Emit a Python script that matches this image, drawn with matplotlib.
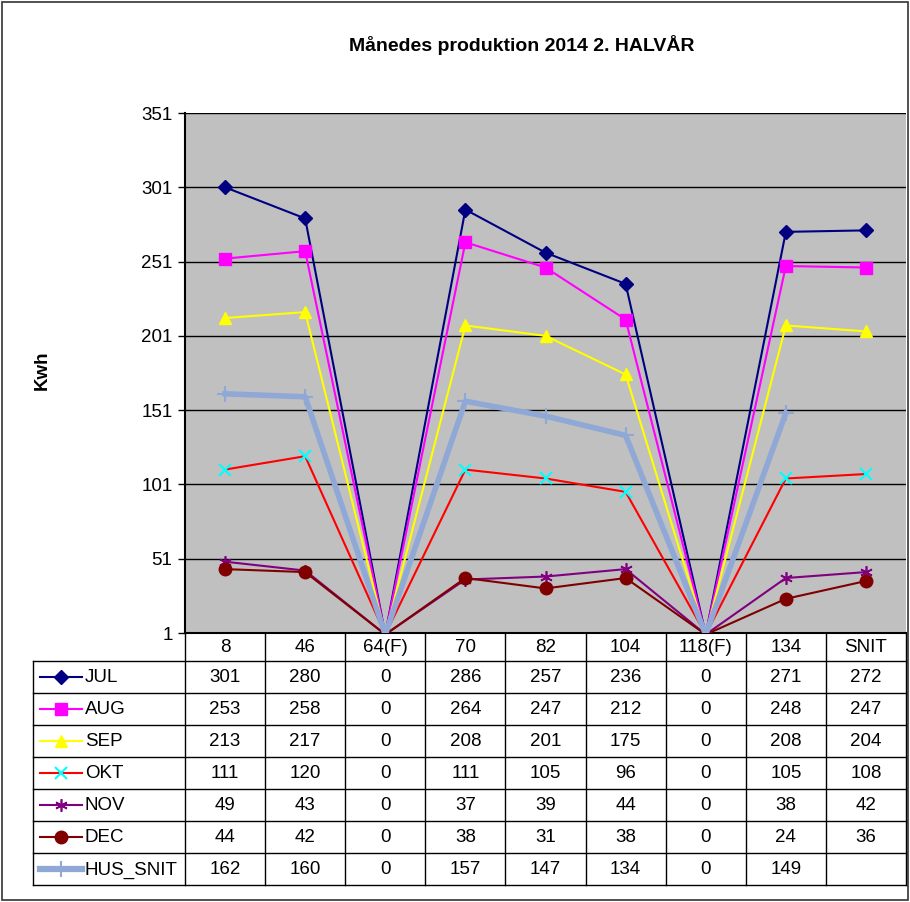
import matplotlib
matplotlib.use('Agg')
import matplotlib.pyplot as plt
import numpy as np
from matplotlib.lines import Line2D
from matplotlib.patches import Rectangle

plt.rcParams['font.family'] = ['Liberation Sans', 'DejaVu Sans']

# data
kategorier = ['8', '46', '64(F)', '70', '82', '104', '118(F)', '134', 'SNIT']
serier = ['JUL', 'AUG', 'SEP', 'OKT', 'NOV', 'DEC', 'HUS_SNIT']
jul = [301, 280, 0, 286, 257, 236, 0, 271, 272]
aug = [253, 258, 0, 264, 247, 212, 0, 248, 247]
sep = [213, 217, 0, 208, 201, 175, 0, 208, 204]
okt = [111, 120, 0, 111, 105, 96, 0, 105, 108]
nov = [49, 43, 0, 37, 39, 44, 0, 38, 42]
dec = [44, 42, 0, 38, 31, 38, 0, 24, 36]
hus_snit = [162, 160, 0, 157, 147, 134, 0, 149, None]
y_ticks = [1, 51, 101, 151, 201, 251, 301, 351]

vaerdier = [jul, aug, sep, okt, nov, dec, hus_snit]

stil = {
    'JUL': dict(color='#000080', marker='D', mfc='#000080', mec='#000080', ms=7, lw=1.5, mew=1),
    'AUG': dict(color='#FF00FF', marker='s', mfc='#FF00FF', mec='#FF00FF', ms=8, lw=1.5, mew=1),
    'SEP': dict(color='#FFFF00', marker='^', mfc='#FFFF00', mec='#FFFF00', ms=9, lw=1.5, mew=1),
    'OKT': dict(color='#FF0000', marker='x', mfc='#00FFFF', mec='#00FFFF', ms=8, lw=1.5, mew=1.5),
    'NOV': dict(color='#800080', marker=(6, 2, 0), mfc='#800080', mec='#800080', ms=9, lw=1.5, mew=1.2),
    'DEC': dict(color='#800000', marker='o', mfc='#800000', mec='#800000', ms=9, lw=1.5, mew=1),
    'HUS_SNIT': dict(color='#8FA8D6', marker='+', mfc='#8FA8D6', mec='#8FA8D6', ms=12, lw=4, mew=1.5),
}

W, H = 910, 902
L, R, T, B = 185, 906, 113, 633
rh = 32
tab_top = 661
leg_left = 33
fs = 13.5

fig = plt.figure(figsize=(W / 100, H / 100), dpi=100)
ax = fig.add_axes([L / W, 1 - B / H, (R - L) / W, (B - T) / H])
ax.set_facecolor('#C0C0C0')

x = np.arange(len(kategorier))
for navn, v in zip(serier, vaerdier):
    y = np.array([np.nan if a is None else a for a in v], dtype=float)
    synlig = [i for i, a in enumerate(y) if a > 0]
    ax.plot(x, y, markevery=synlig, zorder=3, **stil[navn])

ax.set_xlim(-0.5, len(kategorier) - 0.5)
ax.set_ylim(1, 351)
ax.set_yticks(y_ticks)
ax.set_xticks([])
ax.tick_params(axis='y', length=5, width=1, labelsize=fs, pad=4, direction='out')
ax.grid(axis='y', color='black', lw=1)
ax.set_axisbelow(True)
for s in ['top', 'right']:
    ax.spines[s].set_visible(False)
ax.spines['left'].set_linewidth(1.5)
ax.spines['bottom'].set_linewidth(1.5)

# overlay in pixel coords for title, table and frame
ov = fig.add_axes([0, 0, 1, 1])
ov.set_xlim(0, W)
ov.set_ylim(H, 0)
ov.axis('off')
ov.patch.set_visible(False)

ov.text(522, 45, 'Månedes produktion 2014 2. HALVÅR', ha='center', va='center',
        fontsize=14, fontweight='bold')
ov.text(42, 370, 'Kwh', ha='center', va='center', rotation=90,
        fontsize=13.5, fontweight='bold')

cw = (R - L) / len(kategorier)
tab_bund = tab_top + rh * len(serier)

# table grid
for k in range(len(kategorier) + 1):
    ov.plot([L + k * cw] * 2, [B, tab_bund], color='black', lw=1)
ov.plot([leg_left] * 2, [tab_top, tab_bund], color='black', lw=1)
for r in range(len(serier) + 1):
    yy = tab_top + r * rh
    ov.plot([leg_left, R], [yy, yy], color='black', lw=1)

for i, kat in enumerate(kategorier):
    ov.text(L + (i + 0.5) * cw, (B + tab_top) / 2 + 1, kat, ha='center', va='center', fontsize=fs)

for r, (navn, v) in enumerate(zip(serier, vaerdier)):
    yc = tab_top + (r + 0.5) * rh
    st = stil[navn]
    ov.add_line(Line2D([40, 82], [yc, yc], color=st['color'], lw=st['lw'] if navn != 'HUS_SNIT' else 4.5))
    ov.add_line(Line2D([61], [yc], marker=st['marker'], mfc=st['mfc'], mec=st['mec'],
                       ms=st['ms'], mew=st['mew'], ls='none'))
    ov.text(85, yc + 1, navn, ha='left', va='center', fontsize=fs)
    for i, a in enumerate(v):
        if a is not None:
            ov.text(L + (i + 0.5) * cw, yc + 1, str(a), ha='center', va='center', fontsize=fs)

ov.add_patch(Rectangle((2, 2), 906, 898, fill=False, ec='#333333', lw=1.2))

fig.savefig('out.png', dpi=100)
